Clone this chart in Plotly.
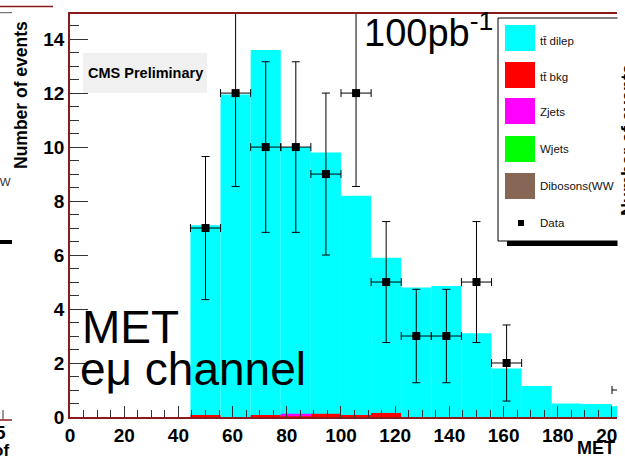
import plotly.graph_objects as go

# ---------------- data ----------------
bin_width = 11.111
mc_centers = [50.0, 61.11, 72.22, 83.33, 94.44, 105.56, 116.67, 127.78, 138.89,
              150.0, 161.11, 172.22, 183.33, 194.44, 205.56]
tt_dilep = [7.1, 11.95, 13.6, 10.0, 9.8, 8.2, 5.9, 4.8, 4.85, 3.1, 1.8, 1.15, 0.5, 0.48, 0.4]
tt_bkg = [0.05, 0.0, 0.05, 0.03, 0.12, 0.05, 0.15, 0.0, 0.0, 0.0, 0.0, 0.0, 0.0, 0.0, 0.0]
zjets = [0.0, 0.0, 0.0, 0.09, 0.0, 0.0, 0.0, 0.0, 0.0, 0.0, 0.0, 0.0, 0.0, 0.0, 0.0]

data_x = [50.0, 61.11, 72.22, 83.33, 94.44, 105.56, 116.67, 127.78, 138.89, 150.0, 161.11, 205.56]
data_y = [7, 12, 10, 10, 9, 12, 5, 3, 3, 5, 2, 1]
data_err = [2.65, 3.46, 3.16, 3.16, 3.0, 3.46, 2.24, 1.73, 1.73, 2.24, 1.41, 1.0]

legend_labels = ["t\u0074\u0304 dilep", "t\u0074\u0304 bkg", "Zjets", "Wjets", "Dibosons(WW", "Data"]
legend_colors = ["#00ffff", "#ff0000", "#ff00ff", "#00ff00", "#876655", "#000000"]

x_ticks = [0, 20, 40, 60, 80, 100, 120, 140, 160, 180, 200]
y_ticks = [0, 2, 4, 6, 8, 10, 12, 14]

# ---------------- geometry helpers ----------------
W, H = 625, 460
L, R, T, B = 70, 617, 14, 417


def px(x):
    return (x - L) / (R - L)


def py(y):
    return (B - y) / (B - T)


FONT = "Liberation Sans, Arial, Helvetica, sans-serif"
FRAME = "#8b1a1a"

fig = go.Figure()
fig.add_trace(go.Bar(x=mc_centers, y=tt_dilep, width=[bin_width] * len(mc_centers),
                     marker=dict(color="#00ffff", line=dict(width=0)), name="tt dilep"))
fig.add_trace(go.Bar(x=mc_centers, y=tt_bkg, width=[bin_width] * len(mc_centers),
                     marker=dict(color="#ff0000", line=dict(width=0)), name="tt bkg"))
fig.add_trace(go.Bar(x=mc_centers, y=zjets, base=tt_bkg, width=[bin_width] * len(mc_centers),
                     marker=dict(color="#ff00ff", line=dict(width=0)), name="Zjets"))
fig.add_trace(go.Scatter(
    x=data_x, y=data_y, mode="markers", name="Data",
    marker=dict(symbol="square", size=8, color="black"),
    error_y=dict(type="data", array=data_err, color="black", thickness=1, width=4),
    error_x=dict(type="constant", value=bin_width / 2, color="black", thickness=1, width=4),
))

shapes = []
annotations = []

# CMS Preliminary box
shapes.append(dict(type="rect", xref="paper", yref="paper", x0=px(83), x1=px(207), y0=py(93), y1=py(53),
                   fillcolor="#f0f0f0", line=dict(width=0), layer="above"))
annotations.append(dict(x=px(145), y=py(73), xref="paper", yref="paper", text="CMS Preliminary",
                        showarrow=False, font=dict(family=FONT, size=14.5, color="black", weight="bold"),
                        xanchor="center", yanchor="middle"))

# Legend box (manual, ROOT style)
shapes.append(dict(type="rect", xref="paper", yref="paper", x0=px(507), x1=px(650), y0=py(246), y1=py(241),
                   fillcolor="black", line=dict(width=0), layer="above"))
shapes.append(dict(type="rect", xref="paper", yref="paper", x0=px(498), x1=px(650), y0=py(241), y1=py(18),
                   fillcolor="white", line=dict(color="black", width=1), layer="above"))
sw_tops = [25, 62, 98, 136, 173]
text_y = [41, 77, 112, 149, 186, 223]
for i in range(5):
    shapes.append(dict(type="rect", xref="paper", yref="paper", x0=px(505), x1=px(535),
                       y0=py(sw_tops[i] + 26), y1=py(sw_tops[i]),
                       fillcolor=legend_colors[i], line=dict(width=0), layer="above"))
shapes.append(dict(type="rect", xref="paper", yref="paper", x0=px(518), x1=px(524), y0=py(226), y1=py(220),
                   fillcolor="black", line=dict(width=0), layer="above"))
for i, lab in enumerate(legend_labels):
    annotations.append(dict(x=px(538), y=py(text_y[i]), xref="paper", yref="paper", text=lab,
                            showarrow=False, font=dict(family=FONT, size=11.5, color="#111"),
                            xanchor="left", yanchor="middle"))

# Cover the right strip (neighbouring panel)
shapes.append(dict(type="rect", xref="paper", yref="paper", x0=px(617.5), x1=px(640), y0=py(470), y1=py(-10),
                   fillcolor="white", line=dict(width=0), layer="above"))

# Left remnants of neighbouring panel
shapes += [
    dict(type="line", xref="paper", yref="paper", x0=px(0), x1=px(53), y0=py(6.5), y1=py(6.5),
         line=dict(color=FRAME, width=1.5), layer="above"),
    dict(type="line", xref="paper", yref="paper", x0=px(0), x1=px(12), y0=py(12.7), y1=py(12.7),
         line=dict(color="#555", width=1), layer="above"),
    dict(type="rect", xref="paper", yref="paper", x0=px(0), x1=px(12), y0=py(244), y1=py(240),
         fillcolor="black", line=dict(width=0), layer="above"),
    dict(type="line", xref="paper", yref="paper", x0=px(0), x1=px(12), y0=py(420), y1=py(420),
         line=dict(color=FRAME, width=1.5), layer="above"),
    dict(type="line", xref="paper", yref="paper", x0=px(3), x1=px(3), y0=py(419), y1=py(410),
         line=dict(color="#333", width=1), layer="above"),
]
annotations += [
    dict(x=px(13), y=py(182), xref="paper", yref="paper", text="WW", showarrow=False,
         font=dict(family=FONT, size=11.5, color="#333"), xanchor="right", yanchor="middle"),
    dict(x=px(8), y=py(432), xref="paper", yref="paper", text="5", showarrow=False,
         font=dict(family=FONT, size=19, color="black", weight="bold"), xanchor="right", yanchor="middle"),
    dict(x=px(11), y=py(451), xref="paper", yref="paper", text="of", showarrow=False,
         font=dict(family=FONT, size=17, color="black", weight="bold"), xanchor="right", yanchor="middle"),
    dict(x=px(628), y=py(140), xref="paper", yref="paper", text="Number of events", textangle=-90,
         showarrow=False, font=dict(family=FONT, size=18, color="black", weight="bold"),
         xanchor="center", yanchor="middle"),
]

# Axis titles and big labels
annotations += [
    dict(x=px(21), y=py(95), xref="paper", yref="paper", text="Number of events", textangle=-90,
         showarrow=False, font=dict(family=FONT, size=17.5, color="black", weight="bold"),
         xanchor="center", yanchor="middle"),
    dict(x=px(617), y=py(448), xref="paper", yref="paper", text="MET", showarrow=False,
         font=dict(family=FONT, size=18, color="black", weight="bold"), xanchor="right", yanchor="middle"),
    dict(x=px(362), y=py(56), xref="paper", yref="paper", text="100pb<sup>-1</sup>", showarrow=False,
         font=dict(family=FONT, size=38, color="black"), xanchor="left", yanchor="bottom"),
    dict(x=px(80), y=py(326.5), xref="paper", yref="paper", text="MET", showarrow=False,
         font=dict(family=FONT, size=46, color="black"), xanchor="left", yanchor="middle"),
    dict(x=px(78), y=py(369), xref="paper", yref="paper", text="e\u03bc channel", showarrow=False,
         font=dict(family=FONT, size=46, color="black"), xanchor="left", yanchor="middle"),
]

fig.update_layout(
    width=W, height=H,
    margin=dict(l=L, r=W - R, t=T, b=H - B, pad=0, autoexpand=False),
    paper_bgcolor="white", plot_bgcolor="white",
    barmode="overlay", showlegend=False, hovermode=False,
    shapes=shapes, annotations=annotations,
    xaxis=dict(range=[0, 201.85], tickvals=x_ticks, ticktext=[str(v) for v in x_ticks],
               automargin=False, ticklabeloverflow="allow",
               ticks="inside", ticklen=11, tickwidth=1, tickcolor="#333",
               minor=dict(dtick=5, tick0=0, ticks="inside", ticklen=7, tickcolor="#333", tickwidth=1),
               showline=True, linecolor=FRAME, linewidth=1.5, mirror=True, showgrid=False, zeroline=False,
               tickfont=dict(family=FONT, size=19, color="black", weight="bold")),
    yaxis=dict(range=[0, 14.93], tickvals=y_ticks, ticktext=[str(v) for v in y_ticks],
               automargin=False, ticklabeloverflow="allow",
               ticks="inside", ticklen=18, tickwidth=1, tickcolor="#333",
               minor=dict(dtick=0.5, tick0=0, ticks="inside", ticklen=9, tickcolor="#333", tickwidth=1),
               showline=True, linecolor=FRAME, linewidth=1.5, showgrid=False, zeroline=False,
               tickfont=dict(family=FONT, size=19, color="black", weight="bold")),
)

fig.write_html("out.html", config={"displayModeBar": False},
               post_script="document.body.style.margin='0';document.body.style.overflow='hidden';")
